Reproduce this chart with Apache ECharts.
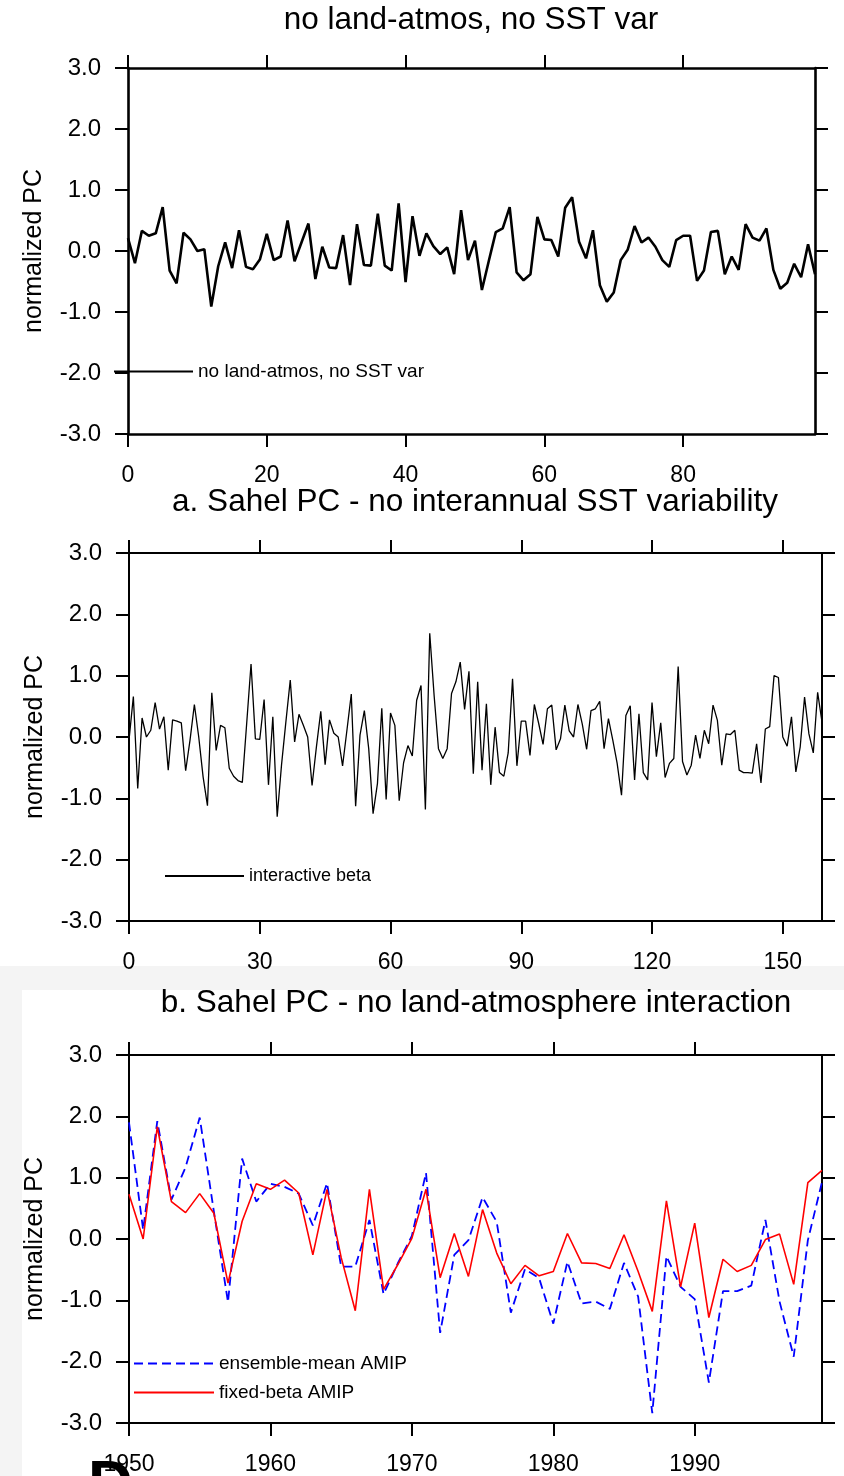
<!DOCTYPE html>
<html><head><meta charset="utf-8">
<script src="https://cdn.jsdelivr.net/npm/echarts@6/dist/echarts.min.js"></script>
<style>html,body{margin:0;padding:0;background:#fff}#c{width:844px;height:1476px}</style>
</head><body><div id="c"></div><script>
// ---- data ----
const titles = ['no land-atmos, no SST var', 'a. Sahel PC - no interannual SST variability', 'b. Sahel PC - no land-atmosphere interaction'];
const yTicks = [-3, -2, -1, 0, 1, 2, 3];
const p1XTicks = [0, 20, 40, 60, 80];
const p2XTicks = [0, 30, 60, 90, 120, 150];
const p3XTicks = [1950, 1960, 1970, 1980, 1990];

const pcNoLandNoSST = [0.21,-0.20,0.33,0.25,0.29,0.72,-0.32,-0.53,0.30,0.19,
0.00,0.03,-0.91,-0.25,0.14,-0.28,0.34,-0.26,-0.30,-0.14,
0.28,-0.15,-0.09,0.50,-0.17,0.14,0.45,-0.46,0.07,-0.27,
-0.28,0.26,-0.56,0.44,-0.23,-0.24,0.61,-0.24,-0.32,0.78,
-0.51,0.57,-0.08,0.29,0.08,-0.05,0.06,-0.38,0.67,-0.15,
0.17,-0.64,-0.16,0.31,0.37,0.72,-0.35,-0.48,-0.38,0.56,
0.19,0.18,-0.09,0.71,0.88,0.15,-0.12,0.34,-0.56,-0.83,
-0.68,-0.15,0.02,0.41,0.14,0.22,0.07,-0.15,-0.26,0.18,
0.25,0.25,-0.49,-0.32,0.31,0.33,-0.38,-0.09,-0.31,0.44,
0.22,0.17,0.37,-0.31,-0.62,-0.52,-0.21,-0.43,0.11,-0.38];

const pcInteractive = [-0.05,0.66,-0.84,0.31,0.00,0.11,0.56,0.13,0.33,-0.54,
0.28,0.26,0.23,-0.55,-0.05,0.53,0.00,-0.65,-1.12,0.72,
-0.22,0.19,0.15,-0.51,-0.64,-0.71,-0.74,0.22,1.19,-0.03,
-0.04,0.61,-0.78,0.33,-1.30,-0.45,0.25,0.93,-0.08,0.37,
0.19,0.00,-0.79,-0.16,0.42,-0.45,0.28,0.06,0.00,-0.47,
0.11,0.70,-1.13,0.03,0.43,-0.19,-1.25,-0.76,0.47,-1.02,
0.39,0.19,-1.04,-0.42,-0.14,-0.31,0.60,0.84,-1.18,1.69,
0.68,-0.19,-0.35,-0.19,0.71,0.90,1.22,0.45,1.07,-0.60,
0.90,-0.54,0.54,-0.78,0.16,-0.58,-0.64,-0.26,0.95,-0.47,
0.26,0.26,-0.30,0.53,0.22,-0.12,0.46,0.52,-0.21,-0.03,
0.52,0.10,0.00,0.53,0.21,-0.20,0.43,0.46,0.58,-0.19,
0.30,-0.05,-0.43,-0.95,0.35,0.51,-0.70,0.38,-0.58,-0.70,
0.56,-0.32,0.23,-0.66,-0.43,-0.35,1.15,-0.40,-0.62,-0.46,
0.03,-0.35,0.11,-0.11,0.52,0.27,-0.46,0.05,0.04,0.11,
-0.54,-0.58,-0.58,-0.59,-0.11,-0.75,0.13,0.17,1.00,0.97,
0.00,-0.15,0.33,-0.57,-0.16,0.65,0.05,-0.26,0.73,0.24];

const years = [1950,1951,1952,1953,1954,1955,1956,1957,1958,1959,
1960,1961,1962,1963,1964,1965,1966,1967,1968,1969,
1970,1971,1972,1973,1974,1975,1976,1977,1978,1979,
1980,1981,1982,1983,1984,1985,1986,1987,1988,1989,
1990,1991,1992,1993,1994,1995,1996,1997,1998,1999];

const ensembleMeanAMIP = [1.90,0.15,1.92,0.64,1.17,1.98,0.45,-1.03,1.31,0.61,
0.90,0.85,0.74,0.22,0.91,-0.45,-0.45,0.31,-0.90,-0.40,
0.05,1.08,-1.53,-0.26,-0.02,0.68,0.28,-1.20,-0.49,-0.64,
-1.38,-0.37,-1.05,-1.02,-1.14,-0.39,-0.94,-2.84,-0.28,-0.78,
-0.98,-2.34,-0.85,-0.85,-0.76,0.31,-1.02,-1.92,-0.02,0.93];

const fixedBetaAMIP = [0.73,0.00,1.83,0.61,0.43,0.74,0.42,-0.72,0.29,0.90,
0.81,0.96,0.75,-0.26,0.81,-0.30,-1.17,0.81,-0.82,-0.42,
0.01,0.81,-0.63,0.09,-0.61,0.48,-0.23,-0.73,-0.43,-0.60,
-0.53,0.09,-0.39,-0.40,-0.48,0.07,-0.53,-1.18,0.62,-0.78,
0.26,-1.28,-0.33,-0.53,-0.43,-0.01,0.08,-0.74,0.92,1.12];

// ---- chart ----
const FONT = "'Liberation Sans', Arial, Helvetica, sans-serif";
const grids = [
  {left:128, top:68, width:687, height:366},
  {left:129, top:553, width:693, height:368},
  {left:129, top:1055, width:693, height:368}
];
const xRanges = [[0,99],[0,159],[1950,1999]];
const xTicks = [p1XTicks, p2XTicks, p3XTicks];
const axW = [2.6, 2, 2];

const xAxis = [], yAxis = [];
for (let g = 0; g < 3; g++) {
  ['bottom','top'].forEach((pos, j) => {
    xAxis.push({
      type:'value', gridIndex:g, position:pos, min:xRanges[g][0], max:xRanges[g][1],
      axisLine:{show:true, onZero:false, lineStyle:{color:'#000', width:axW[g]}},
      axisTick:{show:true, inside:false, length:13, customValues:xTicks[g], lineStyle:{color:'#000', width:2}},
      axisLabel:{show:j===0, customValues:xTicks[g], margin:30, fontSize:23, color:'#000', fontFamily:FONT,
        formatter:v => String(v)},
      splitLine:{show:false}
    });
  });
  ['left','right'].forEach((pos, j) => {
    yAxis.push({
      type:'value', gridIndex:g, position:pos, min:-3, max:3, interval:1,
      name: j===0 ? 'normalized PC' : '', nameLocation:'middle', nameGap:81, nameRotate:90,
      nameTextStyle:{fontSize:25, color:'#000', fontFamily:FONT},
      axisLine:{show:true, onZero:false, lineStyle:{color:'#000', width:axW[g]}},
      axisTick:{show:true, inside:false, length:13, lineStyle:{color:'#000', width:2}},
      axisLabel:{show:j===0, margin:27, fontSize:24, color:'#000', fontFamily:FONT,
        formatter:v => v.toFixed(1)},
      splitLine:{show:false}
    });
  });
}

const series = [
  {name:'no land-atmos, no SST var', type:'line', xAxisIndex:0, yAxisIndex:0, symbol:'none',
   lineStyle:{color:'#000', width:2.6}, itemStyle:{color:'#000'},
   data: pcNoLandNoSST.map((v,i)=>[i,v])},
  {name:'interactive beta', type:'line', xAxisIndex:2, yAxisIndex:2, symbol:'none',
   lineStyle:{color:'#000', width:1.3}, itemStyle:{color:'#000'},
   data: pcInteractive.map((v,i)=>[i,v])},
  {name:'ensemble-mean AMIP', type:'line', xAxisIndex:4, yAxisIndex:4, symbol:'none',
   lineStyle:{color:'#0000ff', width:1.8, type:[9,5]}, itemStyle:{color:'#0000ff'},
   data: years.map((y,k)=>[y, ensembleMeanAMIP[k]])},
  {name:'fixed-beta AMIP', type:'line', xAxisIndex:4, yAxisIndex:4, symbol:'none',
   lineStyle:{color:'#ff0000', width:1.6}, itemStyle:{color:'#ff0000'},
   data: years.map((y,k)=>[y, fixedBetaAMIP[k]])}
];

const legTxt = {color:'#000', fontSize:19, fontFamily:FONT};
const legBase = {padding:0, itemWidth:79, itemHeight:14, selectedMode:false, itemStyle:{opacity:0, borderWidth:0}};
const legend = [
  Object.assign({}, legBase, {data:['no land-atmos, no SST var'], left:113, top:362, textStyle:legTxt}),
  Object.assign({}, legBase, {data:['interactive beta'], left:164, top:867, textStyle:Object.assign({}, legTxt, {fontSize:18})}),
  Object.assign({}, legBase, {data:['ensemble-mean AMIP','fixed-beta AMIP'], orient:'vertical', left:133, top:1354, itemWidth:80, itemGap:10, textStyle:legTxt})
];

const titleY = [20, 502, 1003];
const titleX = [471, 475, 476];
const graphic = [
  {type:'rect', shape:{x:0, y:966, width:844, height:510}, style:{fill:'#f4f4f4'}, z:-10, silent:true},
  {type:'rect', shape:{x:22, y:990, width:822, height:486}, style:{fill:'#ffffff'}, z:-9, silent:true}
];
titles.forEach((t, i) => graphic.push({
  type:'text', x:titleX[i], y:titleY[i], z:10,
  style:{text:t, align:'center', verticalAlign:'middle', textAlign:'center', textVerticalAlign:'middle',
         fontSize:31.5, fontFamily:FONT, fill:'#000'}
}));
graphic.push({type:'text', x:88, y:1455, z:10,
  style:{text:'D', fontSize:62, fontWeight:'bold', fontFamily:FONT, fill:'#000'}});

const chart = echarts.init(document.getElementById('c'), null, {renderer:'canvas'});
chart.setOption({
  animation:false,
  backgroundColor:'#ffffff',
  textStyle:{fontFamily:FONT},
  grid: grids,
  xAxis, yAxis, series, legend, graphic
});
</script></body></html>
